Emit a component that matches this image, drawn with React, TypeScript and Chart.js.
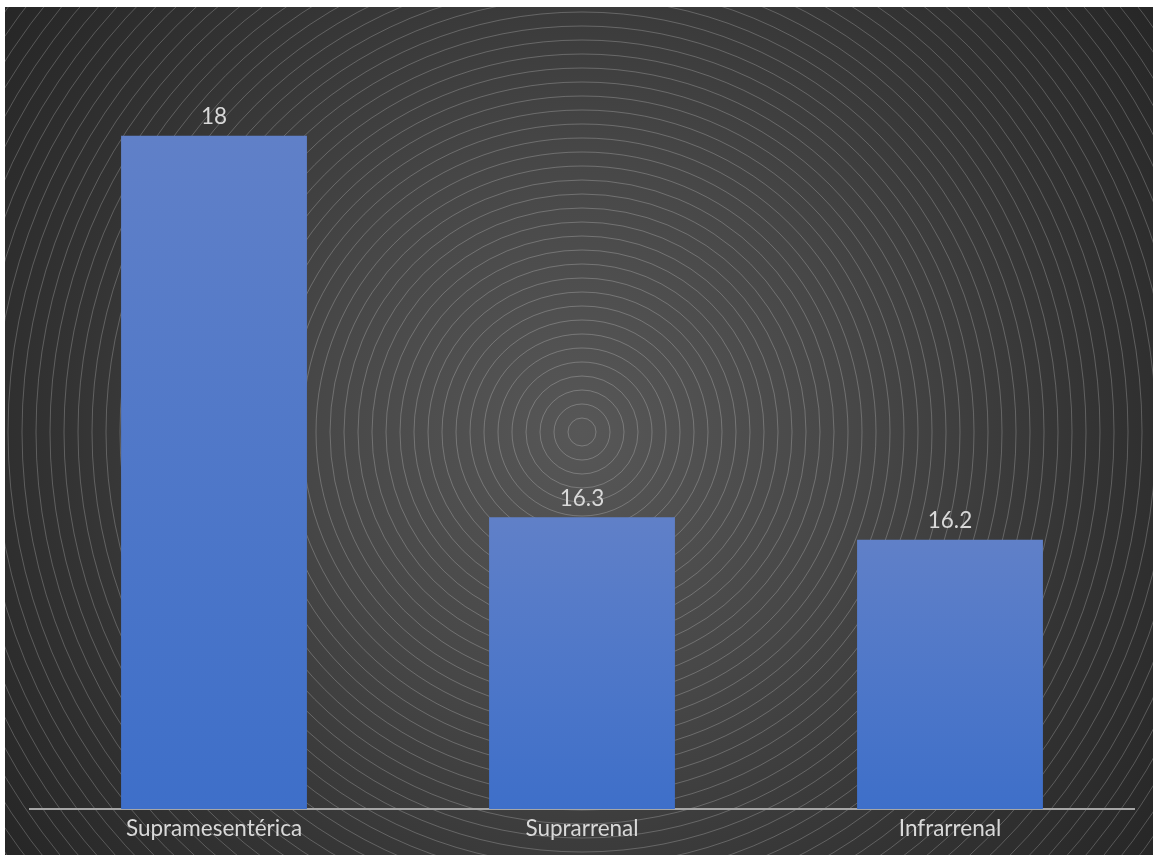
import React, { useEffect, useRef } from "react";
import { Chart, registerables } from "chart.js";

Chart.register(...registerables);

const categories = ["Supramesentérica", "Suprarrenal", "Infrarrenal"];
const values = [18, 16.3, 16.2];
const axisMin = 15;
const axisMax = 18.5;

const W = 1148;
const H = 848;
const FONT = "Lato, 'Open Sans', sans-serif";
const FONT_SIZE = 22.5;
const TEXT = "#d9d9d9";

// Dark radial backdrop with fine concentric rings.
const backdrop = {
  id: "backdrop",
  beforeDraw(chart: any) {
    const { ctx, width, height } = chart;
    const cx = 577;
    const cy = 425;
    const R = 720;
    ctx.save();
    const g = ctx.createRadialGradient(cx, cy, 0, cx, cy, R);
    g.addColorStop(0, "#575757");
    g.addColorStop(0.38, "#474747");
    g.addColorStop(0.72, "#333333");
    g.addColorStop(1, "#262626");
    ctx.fillStyle = g;
    ctx.fillRect(0, 0, width, height);
    ctx.strokeStyle = "rgba(255,255,255,0.22)";
    ctx.lineWidth = 1;
    for (let r = 14; r < 800; r += 14) {
      ctx.beginPath();
      ctx.arc(cx, cy, r, 0, Math.PI * 2);
      ctx.stroke();
    }
    ctx.restore();
  },
};

// Value labels above each bar.
const valueLabels = {
  id: "valueLabels",
  afterDatasetsDraw(chart: any) {
    const { ctx } = chart;
    const meta = chart.getDatasetMeta(0);
    ctx.save();
    ctx.fillStyle = TEXT;
    ctx.font = `${FONT_SIZE}px ${FONT}`;
    ctx.textAlign = "center";
    ctx.textBaseline = "middle";
    meta.data.forEach((bar: any, i: number) => {
      ctx.fillText(String(values[i]), bar.x, bar.y - 18.5);
    });
    ctx.restore();
  },
};

export default function App() {
  const ref = useRef<HTMLCanvasElement | null>(null);

  useEffect(() => {
    if (!ref.current) return;
    const chart = new Chart(ref.current, {
      type: "bar",
      data: {
        labels: categories,
        datasets: [
          {
            data: values,
            backgroundColor: (c: any) => {
              const ch = c.chart;
              if (!ch.chartArea || c.raw == null) return "#4f78c8";
              const top = ch.scales.y.getPixelForValue(c.raw);
              const g = ch.ctx.createLinearGradient(0, top, 0, ch.chartArea.bottom);
              g.addColorStop(0, "#6080c8");
              g.addColorStop(1, "#3e6fc9");
              return g;
            },
            borderWidth: 0,
            barPercentage: 0.505,
            categoryPercentage: 1,
          },
        ],
      },
      options: {
        responsive: false,
        animation: false,
        devicePixelRatio: 1,
        layout: { padding: { top: 16.5, left: 25, right: 19, bottom: 0 } },
        plugins: {
          legend: { display: false },
          tooltip: { enabled: false },
          title: { display: false },
        },
        scales: {
          x: {
            grid: { display: false, drawTicks: false },
            border: { display: true, color: "#a6a6a6", width: 2 },
            ticks: {
              color: TEXT,
              font: { family: FONT, size: FONT_SIZE },
              padding: 6,
              maxRotation: 0,
            },
            afterFit: (s: any) => {
              s.height = 46;
            },
          },
          y: {
            display: false,
            min: axisMin,
            max: axisMax,
          },
        },
      },
      plugins: [backdrop, valueLabels],
    });
    return () => chart.destroy();
  }, []);

  return (
    <div style={{ position: "absolute", left: 5, top: 7, width: W, height: H }}>
      <canvas ref={ref} width={W} height={H} style={{ display: "block" }} />
    </div>
  );
}
